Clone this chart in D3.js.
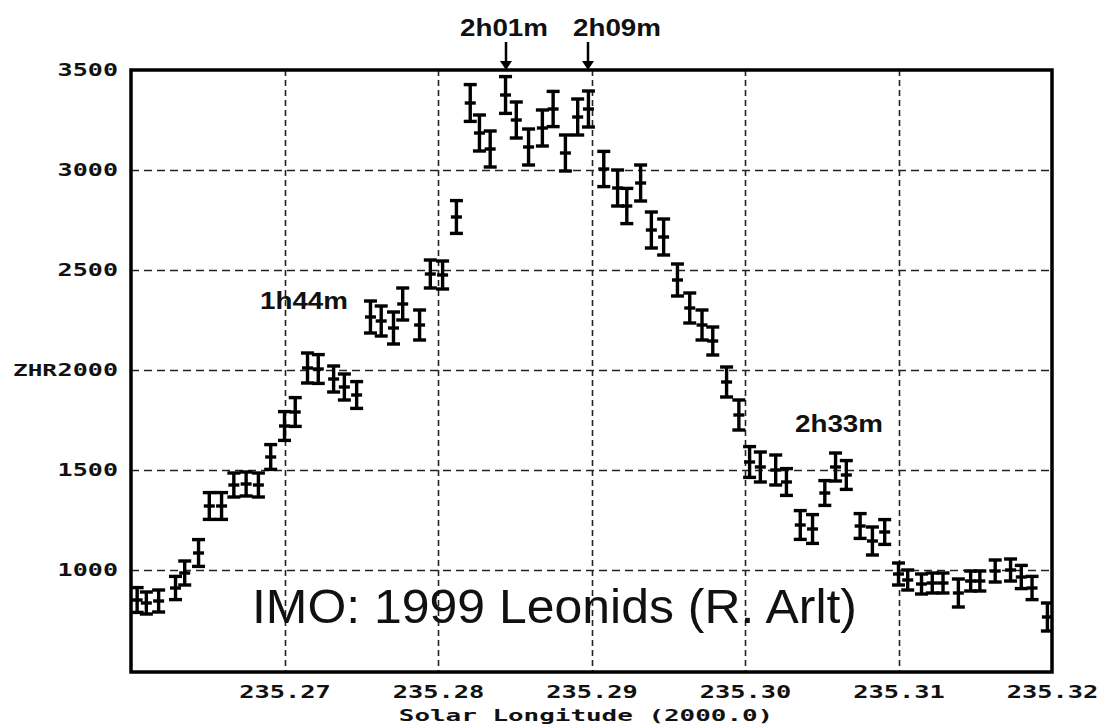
<!DOCTYPE html>
<html>
<head>
<meta charset="utf-8">
<script src="https://cdn.jsdelivr.net/npm/d3@7"></script>
<style>
  html, body { margin: 0; padding: 0; background: #fff; }
  svg { display: block; }
  .mono { font-family: "DejaVu Sans Mono", monospace; font-weight: bold; fill: #111; }
  .note { font-family: "Liberation Sans", Arial, sans-serif; font-weight: bold; fill: #111; }
</style>
</head>
<body>
<svg id="chart" width="1098" height="727"></svg>
<script>
// Solar longitude of each interval and its ZHR with the +/- error
const solarLong = [
  235.2604, 235.2610, 235.2618, 235.2629, 235.2635, 235.2644, 235.2651, 235.2659,
  235.2667, 235.2675, 235.2683, 235.2691, 235.2700, 235.2707, 235.2715, 235.2722,
  235.2732, 235.2739, 235.2747, 235.2756, 235.2763, 235.2771, 235.2777, 235.2788,
  235.2795, 235.2803, 235.2812, 235.2821, 235.2827, 235.2834, 235.2844, 235.2851,
  235.2859, 235.2868, 235.2875, 235.2883, 235.2891, 235.2898, 235.2908, 235.2917,
  235.2923, 235.2932, 235.2939, 235.2947, 235.2956, 235.2964, 235.2972, 235.2979,
  235.2988, 235.2996, 235.3003, 235.3010, 235.3020, 235.3027, 235.3036, 235.3044,
  235.3052, 235.3059, 235.3066, 235.3075, 235.3083, 235.3091, 235.3100, 235.3106,
  235.3115, 235.3122, 235.3129, 235.3139, 235.3147, 235.3153, 235.3163, 235.3173,
  235.3180, 235.3187, 235.3197
];
const zhr = [
  850, 835, 845, 910, 985, 1085, 1320, 1320,
  1425, 1430, 1425, 1565, 1720, 1790, 2010, 2005,
  1955, 1915, 1875, 2265, 2245, 2210, 2330, 2225,
  2480, 2475, 2765, 3335, 3185, 3105, 3375, 3250,
  3115, 3210, 3305, 3085, 3265, 3305, 3005, 2910,
  2820, 2935, 2700, 2665, 2450, 2310, 2225, 2145,
  1940, 1775, 1540, 1515, 1500, 1440, 1225, 1205,
  1385, 1515, 1475, 1220, 1145, 1190, 980, 950,
  930, 935, 935, 885, 945, 945, 995, 1000,
  965, 910, 765
];
const zhrErr = [
  62, 55, 55, 58, 60, 67, 67, 67,
  60, 60, 60, 62, 72, 72, 75, 72,
  65, 65, 67, 80, 75, 80, 80, 75,
  70, 70, 82, 92, 90, 90, 92, 90,
  90, 90, 88, 90, 90, 90, 88, 90,
  88, 90, 90, 90, 80, 75, 75, 70,
  75, 75, 77, 75, 75, 67, 72, 72,
  62, 70, 72, 62, 70, 62, 55, 50,
  50, 50, 50, 70, 50, 50, 55, 55,
  58, 58, 70
];

const xTicks = [235.27, 235.28, 235.29, 235.30, 235.31, 235.32];
const yTicks = [1000, 1500, 2000, 2500, 3000, 3500];

// times marked on the curve
const notes = [
  { text: '2h01m', at: 235.2844, arrow: true },
  { text: '2h09m', at: 235.2898, arrow: true },
  { text: '1h44m', at: null, arrow: false },
  { text: '2h33m', at: null, arrow: false }
];
const title = 'IMO: 1999 Leonids (R. Arlt)';

const svg = d3.select('#chart');

const x = d3.scaleLinear().domain([235.26, 235.32]).range([131, 1052]);
const y = d3.scaleLinear().domain([490, 3500]).range([672, 70]);

const [x0, x1] = x.range();
const [y1, y0] = y.range();
const charW = 15.6; // the old plotter font is very wide

// dashed grid
const grid = svg.append('g').attr('stroke', '#222').attr('stroke-width', 1.6);
grid.selectAll('line.v')
  .data(xTicks.filter(t => x(t) < x1 - 2))
  .enter().append('line')
  .attr('class', 'v')
  .attr('x1', d => Math.round(x(d)) + 0.5).attr('x2', d => Math.round(x(d)) + 0.5)
  .attr('y1', y0).attr('y2', y1)
  .attr('stroke-dasharray', '6,4');
grid.selectAll('line.h')
  .data(yTicks.filter(t => y(t) > y0 + 2))
  .enter().append('line')
  .attr('class', 'h')
  .attr('y1', d => Math.round(y(d)) + 0.5).attr('y2', d => Math.round(y(d)) + 0.5)
  .attr('x1', x0).attr('x2', x1)
  .attr('stroke-dasharray', '8,5');

// axes: labels only, the frame is drawn as a rect
const yAxis = svg.append('g')
  .attr('transform', `translate(${x0},0)`)
  .call(d3.axisLeft(y).tickValues(yTicks).tickSize(0).tickPadding(13).tickFormat(d3.format('d')));
const xAxis = svg.append('g')
  .attr('transform', `translate(0,${y1})`)
  .call(d3.axisBottom(x).tickValues(xTicks).tickSize(0).tickPadding(14).tickFormat(d3.format('.2f')));
[yAxis, xAxis].forEach(ax => {
  ax.select('.domain').remove();
  ax.selectAll('text')
    .attr('class', 'mono')
    .attr('font-size', 17)
    .attr('textLength', function () { return this.textContent.length * charW - 2; })
    .attr('lengthAdjust', 'spacingAndGlyphs');
});
xAxis.selectAll('text').attr('dy', '0.72em');

svg.append('text')
  .attr('class', 'mono')
  .attr('x', 586).attr('y', 721)
  .attr('text-anchor', 'middle')
  .attr('font-size', 16)
  .attr('textLength', 'Solar Longitude (2000.0)'.length * charW)
  .attr('lengthAdjust', 'spacingAndGlyphs')
  .text('Solar Longitude (2000.0)');

svg.append('text')
  .attr('class', 'mono')
  .attr('x', 13).attr('y', y(2000) + 6)
  .attr('font-size', 16)
  .attr('textLength', 44)
  .attr('lengthAdjust', 'spacingAndGlyphs')
  .text('ZHR');

// big title inside the plot
svg.append('text')
  .attr('x', 252).attr('y', 623)
  .attr('font-family', '"Liberation Sans", Arial, sans-serif')
  .attr('font-size', 49)
  .attr('fill', '#111')
  .attr('textLength', 605)
  .attr('lengthAdjust', 'spacingAndGlyphs')
  .text(title);

// error bars
const points = solarLong.map((l, i) => ({ l: l, v: zhr[i], e: zhrErr[i] }));
const capW = 13, midW = 11;
const bars = svg.append('g')
  .attr('stroke', '#000').attr('stroke-width', 3.4);
const bar = bars.selectAll('g').data(points).enter().append('g');
bar.append('line')
  .attr('x1', d => x(d.l)).attr('x2', d => x(d.l))
  .attr('y1', d => y(d.v + d.e)).attr('y2', d => y(d.v - d.e));
bar.append('line')
  .attr('x1', d => x(d.l) - capW / 2).attr('x2', d => Math.min(x(d.l) + capW / 2, x1))
  .attr('y1', d => y(d.v + d.e)).attr('y2', d => y(d.v + d.e));
bar.append('line')
  .attr('x1', d => x(d.l) - capW / 2).attr('x2', d => Math.min(x(d.l) + capW / 2, x1))
  .attr('y1', d => y(d.v - d.e)).attr('y2', d => y(d.v - d.e));
bar.append('line')
  .attr('x1', d => x(d.l) - midW / 2).attr('x2', d => x(d.l) + midW / 2)
  .attr('y1', d => y(d.v)).attr('y2', d => y(d.v));

// frame
svg.append('rect')
  .attr('x', x0).attr('y', y0)
  .attr('width', x1 - x0).attr('height', y1 - y0)
  .attr('fill', 'none').attr('stroke', '#000').attr('stroke-width', 3.5);

// time notes, two of them with arrows onto the top of the frame
const notePos = {
  '2h01m': [460, 36],
  '2h09m': [573, 36],
  '1h44m': [260, 309],
  '2h33m': [795, 432]
};
notes.forEach(n => {
  const p = notePos[n.text];
  svg.append('text')
    .attr('class', 'note')
    .attr('x', p[0]).attr('y', p[1])
    .attr('font-size', 24)
    .attr('textLength', 88)
    .attr('lengthAdjust', 'spacingAndGlyphs')
    .text(n.text);
  if (n.arrow) {
    const ax = Math.round(x(n.at));
    svg.append('line')
      .attr('x1', ax).attr('x2', ax).attr('y1', 42).attr('y2', y0 - 6)
      .attr('stroke', '#000').attr('stroke-width', 2.5);
    svg.append('path')
      .attr('d', `M${ax - 6},${y0 - 9} L${ax + 6},${y0 - 9} L${ax},${y0} Z`)
      .attr('fill', '#000');
  }
});
</script>
</body>
</html>
